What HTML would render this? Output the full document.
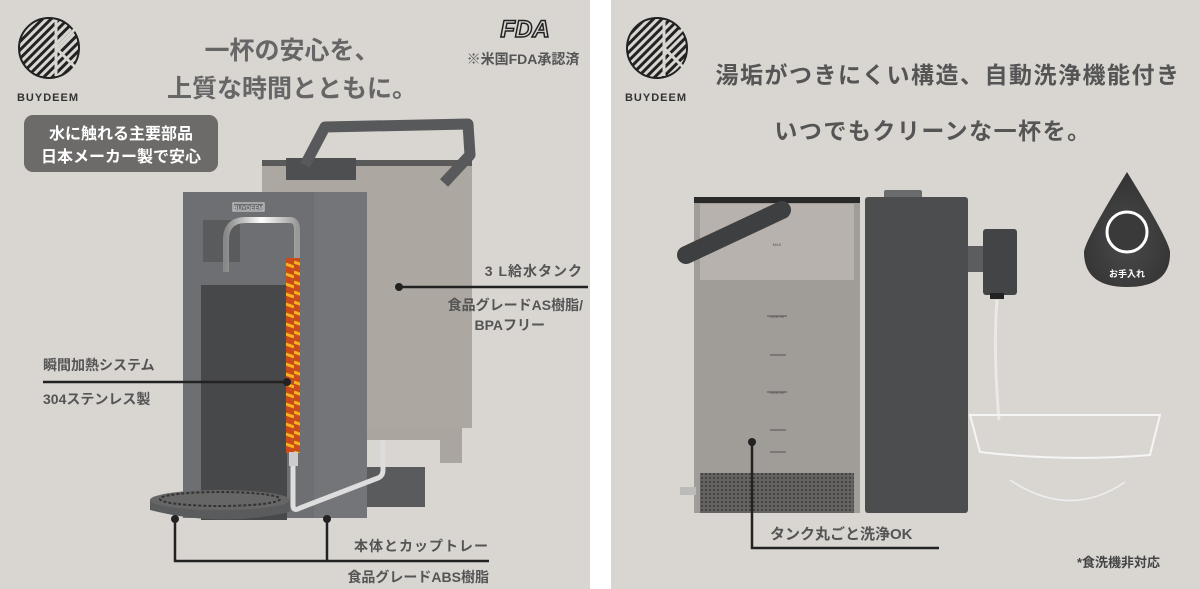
<!DOCTYPE html>
<html><head><meta charset="utf-8"><style>
html,body{margin:0;padding:0;background:#fff;}
svg{display:block;}
text{font-family:"Liberation Sans","Noto Sans CJK JP",sans-serif;}
</style></head><body>
<svg width="1200" height="589" viewBox="0 0 1200 589" xmlns="http://www.w3.org/2000/svg">
<defs>
<pattern id="stripe" width="6" height="6" patternUnits="userSpaceOnUse" patternTransform="rotate(45)">
<rect width="3" height="6" fill="#222"/></pattern>
<pattern id="mesh" width="4" height="4" patternUnits="userSpaceOnUse">
<rect width="4" height="4" fill="#555"/><circle cx="2" cy="2" r="1" fill="#222"/></pattern>
<pattern id="coil" width="14" height="10" patternUnits="userSpaceOnUse">
<rect width="14" height="10" fill="#c94a1a"/><path d="M0 2 L14 7" stroke="#f5b41d" stroke-width="3"/></pattern>
<linearGradient id="pipe" x1="0" x2="1"><stop offset="0" stop-color="#888"/><stop offset=".5" stop-color="#fff"/><stop offset="1" stop-color="#999"/></linearGradient>
<radialGradient id="drop" cx=".5" cy=".6" r=".6"><stop offset="0" stop-color="#4a4a4a"/><stop offset="1" stop-color="#333"/></radialGradient>
</defs>
<rect x="0" y="0" width="590" height="589" fill="#d9d6d2"/>
<rect x="611" y="0" width="589" height="589" fill="#d9d6d2"/>

<!-- ===== LEFT ===== -->
<g>
<circle cx="49" cy="48" r="30" fill="url(#stripe)" stroke="#222" stroke-width="2"/>
<path d="M56 20 L56 76 M56 48 L76 28 M56 48 L76 68" stroke="#d9d6d2" stroke-width="3" fill="none"/>
<text x="48" y="101" font-size="11" font-weight="bold" fill="#333" text-anchor="middle" letter-spacing="1">BUYDEEM</text>
</g>
<text x="292" y="59" font-size="25" font-weight="bold" fill="#666" text-anchor="middle">一杯の安心を、</text>
<text x="292" y="97" font-size="25" font-weight="bold" fill="#666" text-anchor="middle">上質な時間とともに。</text>
<text x="525" y="37" font-size="24" font-weight="bold" fill="none" stroke="#222" stroke-width="1.5" text-anchor="middle" font-style="italic">FDA</text>
<text x="523" y="64" font-size="14" font-weight="bold" fill="#555" text-anchor="middle">※米国FDA承認済</text>
<rect x="24" y="115" width="194" height="57" rx="9" fill="#6d6b6a"/>
<text x="121" y="139" font-size="16" font-weight="bold" fill="#fff" text-anchor="middle">水に触れる主要部品</text>
<text x="121" y="162" font-size="16" font-weight="bold" fill="#fff" text-anchor="middle">日本メーカー製で安心</text>

<!-- tank -->
<rect x="262" y="160" width="210" height="268" fill="#aca7a1"/>
<rect x="262" y="160" width="210" height="6" fill="#5a5a5a"/>
<path d="M366 428 L462 428 L462 463 L440 463 L440 440 L366 440 Z" fill="#aaa59f"/>
<rect x="366" y="467" width="59" height="40" fill="#5a5b5d"/>
<rect x="286" y="158" width="70" height="22" fill="#4e4f51"/>
<path d="M305 165 L325 127 L468 124 L470 155 L444 183" fill="none" stroke="#58595b" stroke-width="11" stroke-linejoin="round"/>
<!-- body -->
<rect x="183" y="192" width="131" height="326" fill="#6e6f72"/>
<rect x="314" y="192" width="53" height="326" fill="#747578"/>
<rect x="233" y="203" width="31" height="8" fill="none" stroke="#ddd" stroke-width="1"/>
<text x="248.5" y="210" font-size="6" fill="#ddd" text-anchor="middle">BUYDEEM</text>
<rect x="203" y="220" width="37" height="42" fill="#5a5b5d"/>
<rect x="201" y="285" width="86" height="235" fill="#47484a"/>
<!-- tray -->
<path d="M150 500 L150 510 Q220 528 290 512 L290 500 Z" fill="#5a5b5d"/>
<ellipse cx="220" cy="500" rx="70" ry="10" fill="#666"/>
<ellipse cx="220" cy="499" rx="60" ry="7" fill="none" stroke="#333" stroke-width="2" stroke-dasharray="3 2"/>
<!-- pipes -->
<path d="M226 272 L226 240 Q226 220 246 220 L290 220 Q297 220 297 230 L297 258" fill="none" stroke="url(#pipe)" stroke-width="6"/>
<path d="M293 463 L293 505 Q293 512 300 508 L378 478 Q383 476 383 470 L383 440" fill="none" stroke="#ddd" stroke-width="5"/>
<rect x="286" y="258" width="14" height="195" fill="url(#coil)"/>
<rect x="289" y="452" width="9" height="14" fill="#ccc"/>
<!-- callouts left -->
<g stroke="#222" stroke-width="2.5" fill="none">
<path d="M399 287 L588 287"/>
<path d="M43 382 L287 382"/>
<path d="M175 519 L175 561 L489 561 M327 519 L327 561"/>
</g>
<g fill="#222"><circle cx="399" cy="287" r="4"/><circle cx="287" cy="382" r="4"/><circle cx="175" cy="519" r="4"/><circle cx="327" cy="519" r="4"/></g>
<g font-size="14" font-weight="bold" fill="#555">
<text x="583" y="276" text-anchor="end" letter-spacing="1">3 L給水タンク</text>
<text x="583" y="310" text-anchor="end">食品グレードAS樹脂/</text>
<text x="545" y="330" text-anchor="end">BPAフリー</text>
<text x="43" y="370">瞬間加熱システム</text>
<text x="43" y="404">304ステンレス製</text>
<text x="489" y="551" text-anchor="end" letter-spacing="1">本体とカップトレー</text>
<text x="489" y="582" text-anchor="end">食品グレードABS樹脂</text>
</g>

<!-- ===== RIGHT ===== -->
<g>
<circle cx="657" cy="48" r="30" fill="url(#stripe)" stroke="#222" stroke-width="2"/>
<path d="M664 20 L664 76 M664 48 L684 28 M664 48 L684 68" stroke="#d9d6d2" stroke-width="3" fill="none"/>
<text x="656" y="101" font-size="11" font-weight="bold" fill="#333" text-anchor="middle" letter-spacing="1">BUYDEEM</text>
</g>
<text x="948" y="83" font-size="23" font-weight="bold" fill="#555" text-anchor="middle" letter-spacing="1.5">湯垢がつきにくい構造、自動洗浄機能付き</text>
<text x="933" y="139" font-size="23" font-weight="bold" fill="#555" text-anchor="middle" letter-spacing="1.5">いつでもクリーンな一杯を。</text>
<!-- tank -->
<rect x="694" y="197" width="166" height="316" fill="#a09c98"/>
<rect x="700" y="204" width="154" height="76" fill="#b7b2ad"/>
<rect x="694" y="197" width="166" height="6" fill="#2a2a2a"/>
<rect x="700" y="473" width="154" height="40" fill="url(#mesh)" opacity=".8"/>
<rect x="680" y="487" width="16" height="8" fill="#bbb"/>
<path d="M686 255 L782 210" stroke="#3e3f41" stroke-width="18" stroke-linecap="round"/>
<g stroke="#555" stroke-width="1"><path d="M767 316 h20 M770 355 h16 M767 392 h20 M770 430 h16 M770 452 h16"/></g>
<g font-size="4" fill="#555" text-anchor="middle"><text x="777" y="246">MAX</text><text x="777" y="318">2000 ml</text><text x="777" y="394">1000 ml</text></g>
<!-- body -->
<rect x="884" y="190" width="38" height="9" rx="2" fill="#6a6b6d"/>
<rect x="865" y="197" width="103" height="316" rx="3" fill="#4c4d4f"/>
<rect x="968" y="246" width="16" height="26" fill="#5c5d5f"/>
<rect x="983" y="229" width="34" height="66" rx="3" fill="#434446"/>
<rect x="990" y="293" width="14" height="6" fill="#222"/>
<path d="M997 300 Q993 350 999 420" stroke="#eee" stroke-width="3" fill="none" opacity=".8"/>
<!-- bowl -->
<path d="M970 415 L1160 415 L1150 455 Q1065 462 980 452 Z" fill="none" stroke="#f5f5f5" stroke-width="2"/>
<path d="M1010 480 Q1070 520 1125 482" fill="none" stroke="#eee" stroke-width="1.5"/>
<!-- drop -->
<path d="M1127 172 Q1085 240 1084 252 Q1084 287 1127 287 Q1171 287 1170 252 Q1169 240 1127 172 Z" fill="url(#drop)"/>
<circle cx="1127" cy="232" r="20" fill="#3a3a3a" stroke="#fff" stroke-width="3"/>
<text x="1127" y="277" font-size="9" font-weight="bold" fill="#fff" text-anchor="middle">お手入れ</text>
<!-- callout right -->
<path d="M752 442 L752 548 L939 548" stroke="#222" stroke-width="2.5" fill="none"/>
<circle cx="752" cy="442" r="4" fill="#222"/>
<text x="770" y="539" font-size="15" font-weight="bold" fill="#555">タンク丸ごと洗浄OK</text>
<text x="1160" y="567" font-size="13" font-weight="bold" fill="#444" text-anchor="end">*食洗機非対応</text>
</svg>
</body></html>
